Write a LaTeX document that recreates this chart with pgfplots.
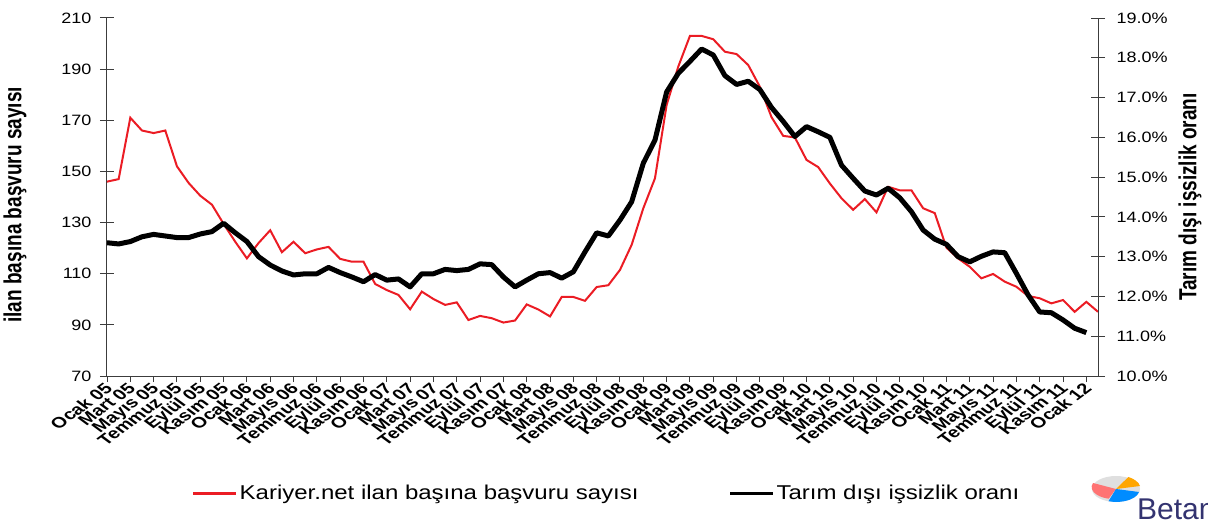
\documentclass[border=0pt]{standalone}
\usepackage{fontspec}
\setmainfont{Liberation Sans}
\newfontfamily\wide[FakeStretch=1.2]{Liberation Sans}
\usepackage{pgfplots}
\pgfplotsset{compat=1.18}
\definecolor{kred}{RGB}{235,28,36}
\definecolor{axc}{RGB}{60,60,60}

\pgfplotstableread{
x y
0 146
1 147
2 171
3 166
4 165
5 166
6 152
7 145.5
8 140.5
9 137
10 129.5
11 122.5
12 116
13 122
14 127
15 118.4
16 122.5
17 118
18 119.5
19 120.5
20 115.8
21 114.7
22 114.7
23 106
24 103.6
25 101.7
26 96.1
27 103
28 100.1
29 97.8
30 98.8
31 91.9
32 93.5
33 92.6
34 90.9
35 91.7
36 98
37 96
38 93.3
39 100.9
40 100.9
41 99.4
42 104.8
43 105.5
44 111.5
45 121.3
46 135.6
47 147.3
48 176
49 191
50 203
51 203
52 201.7
53 196.8
54 195.9
55 191.6
56 183.1
57 171.2
58 163.9
59 163.3
60 154.5
61 151.7
62 145.3
63 139.5
64 135
65 139.2
66 134
67 144
68 142.6
69 142.6
70 135.6
71 133.7
72 120.2
73 116
74 112.7
75 108.2
76 109.9
77 106.9
78 104.9
79 101.3
80 100.4
81 98.4
82 99.7
83 95.1
84 99
85 95.1
}\kariyer

\pgfplotstableread{
x y
0 13.35
1 13.32
2 13.38
3 13.50
4 13.56
5 13.52
6 13.48
7 13.48
8 13.57
9 13.63
10 13.84
11 13.60
12 13.38
13 13.00
14 12.79
15 12.64
16 12.54
17 12.57
18 12.57
19 12.73
20 12.60
21 12.49
22 12.37
23 12.55
24 12.41
25 12.44
26 12.24
27 12.57
28 12.57
29 12.68
30 12.65
31 12.68
32 12.82
33 12.80
34 12.49
35 12.24
36 12.41
37 12.57
38 12.60
39 12.46
40 12.62
41 13.12
42 13.60
43 13.52
44 13.92
45 14.38
46 15.35
47 15.93
48 17.14
49 17.61
50 17.91
51 18.22
52 18.07
53 17.55
54 17.33
55 17.41
56 17.20
57 16.75
58 16.40
59 16.02
60 16.27
61 16.14
62 16.00
63 15.30
64 14.97
65 14.65
66 14.55
67 14.72
68 14.48
69 14.13
70 13.67
71 13.44
72 13.31
73 13.00
74 12.87
75 13.01
76 13.12
77 13.10
78 12.58
79 12.04
80 11.61
81 11.59
82 11.41
83 11.20
84 11.09
}\issizlik

\pgfplotsset{
  base/.style={
    scale only axis, width=991pt, height=358pt,
    at={(107pt,144pt)}, anchor=south west,
    xmin=0, xmax=85, clip=false,
    /pgf/number format/assume math mode=true,
    axis line style={axc, line width=1pt},
    every tick/.style={axc, line width=1pt},
  }
}

\begin{document}
\begin{tikzpicture}[x=1pt,y=1pt]
\useasboundingbox (0,0) rectangle (1208,520);

% left axis with red series and x tick labels
\begin{axis}[base,
  ymin=70, ymax=210, ytick={70,90,...,210},
  axis y line*=left, axis x line*=bottom,
  tick align=center, major tick length=14pt,
  xtick={0,2,...,84},
  xtick style={draw=none},
  xticklabels={Ocak 05,Mart 05,Mayıs 05,Temmuz 05,Eylül 05,Kasım 05,
    Ocak 06,Mart 06,Mayıs 06,Temmuz 06,Eylül 06,Kasım 06,
    Ocak 07,Mart 07,Mayıs 07,Temmuz 07,Eylül 07,Kasım 07,
    Ocak 08,Mart 08,Mayıs 08,Temmuz 08,Eylül 08,Kasım 08,
    Ocak 09,Mart 09,Mayıs 09,Temmuz 09,Eylül 09,Kasım 09,
    Ocak 10,Mart 10,Mayıs 10,Temmuz 10,Eylül 10,Kasım 10,
    Ocak 11,Mart 11,Mayıs 11,Temmuz 11,Eylül 11,Kasım 11,
    Ocak 12},
  x tick label style={font=\bfseries\fontsize{15}{15}\selectfont,
    xscale=1.35, rotate=45, anchor=north east, inner sep=1pt, yshift=4pt},
  yticklabel style={font=\wide\fontsize{15}{15}\selectfont, xshift=-5pt},
]
\addplot[kred, line width=2pt] table[x=x,y=y] {\kariyer};
\node[xscale=1.3, rotate=90, font=\bfseries\fontsize{19}{19}\selectfont]
  at ([xshift=-92pt]rel axis cs:0,0.478) {ilan başına başvuru sayısı};
\node[xscale=1.3, rotate=90, font=\bfseries\fontsize{19}{19}\selectfont]
  at ([xshift=92pt]rel axis cs:1,0.5) {Tarım dışı işsizlik oranı};
\end{axis}

% x tick marks
\begin{axis}[base,
  ymin=0, ymax=1,
  axis y line=none, axis x line*=bottom,
  xtick={0,2,...,84}, xticklabels={},
  tick align=outside, major tick length=6pt,
]
\end{axis}

% right axis with black series
\begin{axis}[base,
  ymin=10, ymax=19, ytick={10,11,...,19},
  axis y line*=right, axis x line=none,
  tick align=center, major tick length=14pt,
  yticklabel={\pgfmathprintnumber[fixed,fixed zerofill,precision=1]{\tick}\%},
  yticklabel style={font=\wide\fontsize{15}{15}\selectfont, xshift=8pt},
  legend columns=2,
  legend style={at={(0.504,-0.327)}, anchor=center, draw=none, fill=none,
    font=\wide\fontsize{20}{20}\selectfont,
    /tikz/every even column/.append style={column sep=88pt}},
  legend image code/.code={\draw[#1, line width=3pt] (0pt,0pt) -- (43pt,0pt);},
]
\addlegendimage{kred}
\addlegendentry{Kariyer.net ilan başına başvuru sayısı}
\addplot[black, line width=5pt, line join=round] table[x=x,y=y] {\issizlik};
\addlegendentry{Tarım dışı işsizlik oranı}
\end{axis}

% Betam logo (approximate)
\fill[gray!25] (1116,31) ellipse (24 and 13);
\fill[red!55] (1116,31) -- (1093,37) arc (160:255:23 and 12) -- cycle;
\fill[blue!45!cyan] (1116,31) -- (1139,28) arc (-10:-110:23 and 12) -- cycle;
\fill[orange!70!yellow] (1116,31) -- (1140,34) arc (10:60:24 and 13) -- cycle;
\node[anchor=base west, inner sep=0pt, text=blue!30!black!80,
  font=\fontsize{30}{30}\selectfont] at (1137,1) {Betam};
\end{tikzpicture}
\end{document}
